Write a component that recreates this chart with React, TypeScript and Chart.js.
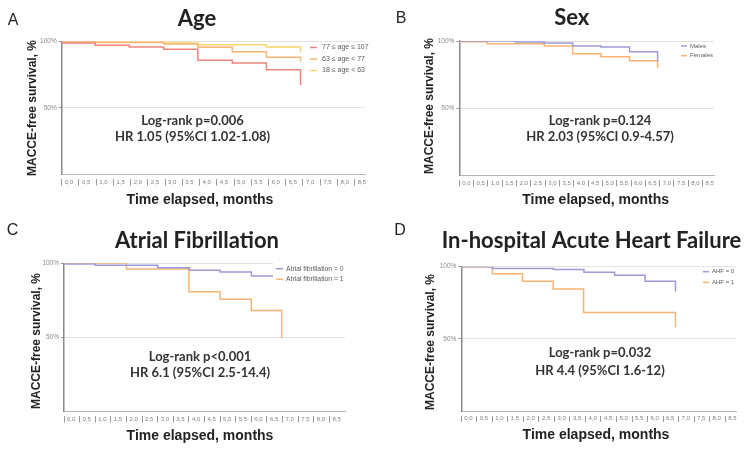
import React, { useEffect, useRef } from "react";
import { Chart, registerables } from "chart.js";
Chart.register(...registerables);

// ---------- data ----------
const xTickValues = [0, 0.5, 1, 1.5, 2, 2.5, 3, 3.5, 4, 4.5, 5, 5.5, 6, 6.5, 7, 7.5, 8, 8.5];
const yTickValues = [50, 100];

const xAxisTitle = "Time elapsed, months";
const yAxisTitle = "MACCE-free survival, %";

const panelLetters = ["A", "B", "C", "D"];
const panelTitles = ["Age", "Sex", "Atrial Fibrillation", "In-hospital Acute Heart Failure"];
const logRankTexts = ["Log-rank p=0.006", "Log-rank p=0.124", "Log-rank p<0.001", "Log-rank p=0.032"];
const hrTexts = ["HR 1.05 (95%CI 1.02-1.08)", "HR 2.03 (95%CI 0.9-4.57)", "HR 6.1 (95%CI 2.5-14.4)", "HR 4.4 (95%CI 1.6-12)"];

// A: Age
const ageOldLabel = "77 \u2264 age \u2264 107";
const ageOldTimes = [0, 0.97, 1.96, 2.96, 3.95, 4.95, 5.94, 6.93];
const ageOldSurv = [98.7, 97.0, 95.7, 94.0, 85.7, 83.7, 78.7, 67.2];
const ageMidLabel = "63 \u2264 age < 77";
const ageMidTimes = [0, 0.97, 2.96, 3.95, 4.95, 5.94, 6.93];
const ageMidSurv = [99.7, 99.1, 98.0, 95.5, 92.2, 88.0, 84.7];
const ageYoungLabel = "18 \u2264 age < 63";
const ageYoungTimes = [0, 0.97, 2.96, 3.95, 5.94, 6.93];
const ageYoungSurv = [100, 99.5, 98.7, 97.5, 95.7, 91.8];

// B: Sex
const malesLabel = "Males";
const malesTimes = [0, 1.96, 2.97, 3.96, 4.95, 5.95, 6.93];
const malesSurv = [100, 99.3, 98.5, 96.3, 95.5, 92.0, 85.0];
const femalesLabel = "Females";
const femalesTimes = [0, 0.98, 2.97, 3.96, 4.95, 5.95, 6.93];
const femalesSurv = [99.5, 97.9, 96.2, 90.5, 88.3, 85.3, 80.0];

// C: Atrial fibrillation
const af0Label = "Atrial fibrillation = 0";
const af0Times = [0, 1.0, 3.0, 4.02, 5.0, 6.0, 6.97];
const af0Surv = [99.5, 98.6, 97.0, 95.3, 94.1, 91.4, 89.0];
const af1Label = "Atrial fibrillation = 1";
const af1Times = [0, 2.0, 4.0, 5.0, 6.0, 6.97];
const af1Surv = [100, 96.1, 80.8, 75.7, 68.2, 49.5];

// D: AHF
const ahf0Label = "AHF = 0";
const ahf0Times = [0, 1.0, 2.97, 3.95, 4.94, 5.92, 6.9];
const ahf0Surv = [100, 98.8, 98.1, 96.1, 94.0, 89.9, 82.9];
const ahf1Label = "AHF = 1";
const ahf1Times = [0, 1.0, 1.97, 2.96, 3.94, 6.9];
const ahf1Surv = [100, 95.1, 89.9, 84.5, 68.3, 58.1];

// ---------- styles ----------
const RED = "#f1847a";
const ORANGE = "#f7b472";
const YELLOW = "#f9d56e";
const PURPLE = "#9c9ad8";

const Y_SCALE_W = 24;
const X_SCALE_H = 20;

type Series = { label: string; times: number[]; surv: number[]; color: string };
type Panel = {
  ox: number; oy: number; w: number; h: number;
  area: { l: number; r: number; t: number; b: number };
  xMax: number;
  idx: number;
  letterPos: [number, number];
  titlePos: [number, number];
  notePos: [number, number, number];
  yTitlePos: [number, number];
  xTitlePos: [number, number];
  series: Series[];
  legend: { lineX: number; lineW: number; textX: number; ys: number[]; font: number; box?: [number, number, number, number] };
};

const panels: Panel[] = [
  {
    ox: 0, oy: 0, w: 375, h: 215,
    area: { l: 61.7, r: 365, t: 41.3, b: 174.5 }, xMax: 8.8, idx: 0,
    letterPos: [13, 25], titlePos: [197, 26], notePos: [192.5, 120.7, 137.3],
    yTitlePos: [33, 108], xTitlePos: [200, 200],
    series: [
      { label: ageOldLabel, times: ageOldTimes, surv: ageOldSurv, color: RED },
      { label: ageMidLabel, times: ageMidTimes, surv: ageMidSurv, color: ORANGE },
      { label: ageYoungLabel, times: ageYoungTimes, surv: ageYoungSurv, color: YELLOW },
    ],
    legend: { lineX: 310, lineW: 7, textX: 322, ys: [47.5, 59, 70.5], font: 7 },
  },
  {
    ox: 375, oy: 0, w: 376, h: 215,
    area: { l: 459.3, r: 714, t: 41, b: 175.5 }, xMax: 8.9, idx: 1,
    letterPos: [401, 23.3], titlePos: [571.7, 25], notePos: [600, 120.7, 137.3],
    yTitlePos: [430, 106], xTitlePos: [595.7, 200],
    series: [
      { label: malesLabel, times: malesTimes, surv: malesSurv, color: PURPLE },
      { label: femalesLabel, times: femalesTimes, surv: femalesSurv, color: ORANGE },
    ],
    legend: { lineX: 681, lineW: 6, textX: 690, ys: [46, 55.7], font: 6 },
  },
  {
    ox: 0, oy: 215, w: 375, h: 234,
    area: { l: 64, r: 345, t: 263.3, b: 411.5 }, xMax: 9.0, idx: 2,
    letterPos: [12.5, 235], titlePos: [197, 247.7], notePos: [200, 356.7, 373],
    yTitlePos: [37, 341], xTitlePos: [200, 435.7],
    series: [
      { label: af0Label, times: af0Times, surv: af0Surv, color: PURPLE },
      { label: af1Label, times: af1Times, surv: af1Surv, color: ORANGE },
    ],
    legend: { lineX: 276, lineW: 7, textX: 286, ys: [268.7, 279.3], font: 6.8, box: [273, 262, 73, 24] },
  },
  {
    ox: 375, oy: 215, w: 376, h: 234,
    area: { l: 461.3, r: 736, t: 266.7, b: 411 }, xMax: 8.85, idx: 3,
    letterPos: [400, 235], titlePos: [591.5, 247.7], notePos: [600, 353.3, 370.7],
    yTitlePos: [431, 342], xTitlePos: [596, 435],
    series: [
      { label: ahf0Label, times: ahf0Times, surv: ahf0Surv, color: PURPLE },
      { label: ahf1Label, times: ahf1Times, surv: ahf1Surv, color: ORANGE },
    ],
    legend: { lineX: 703, lineW: 6, textX: 712, ys: [271.7, 282.3], font: 6 },
  },
];

const SANS = '"Liberation Sans", Arial, sans-serif';
const HUMAN = 'Lato, "Open Sans", sans-serif';

function makeTextPlugin(p: Panel) {
  return {
    id: "panelText" + p.idx,
    afterDraw(chart: any) {
      const ctx: CanvasRenderingContext2D = chart.ctx;
      ctx.save();
      ctx.translate(-p.ox, -p.oy);
      // legend
      if (p.legend.box) {
        ctx.fillStyle = "#ffffff";
        const [bx, by, bw, bh] = p.legend.box;
        ctx.fillRect(bx, by, bw, bh);
      }
      p.series.forEach((s, i) => {
        const y = p.legend.ys[i];
        ctx.strokeStyle = s.color;
        ctx.lineWidth = 1.5;
        ctx.beginPath();
        ctx.moveTo(p.legend.lineX, y);
        ctx.lineTo(p.legend.lineX + p.legend.lineW, y);
        ctx.stroke();
        ctx.fillStyle = "#5a5a5a";
        ctx.font = `${p.legend.font}px ${SANS}`;
        ctx.textAlign = "left";
        ctx.textBaseline = "middle";
        ctx.fillText(s.label, p.legend.textX, y);
      });
      // letter
      ctx.fillStyle = "#222";
      ctx.textAlign = "center";
      ctx.textBaseline = "alphabetic";
      ctx.font = `16px ${SANS}`;
      ctx.fillText(panelLetters[p.idx], p.letterPos[0], p.letterPos[1]);
      // title
      ctx.font = `bold 22px ${HUMAN}`;
      ctx.fillText(panelTitles[p.idx], p.titlePos[0], p.titlePos[1]);
      // notes
      ctx.fillStyle = "#333";
      ctx.textBaseline = "middle";
      ctx.font = `bold 13px ${HUMAN}`;
      ctx.fillText(logRankTexts[p.idx], p.notePos[0], p.notePos[1]);
      ctx.fillText(hrTexts[p.idx], p.notePos[0], p.notePos[2]);
      // axis titles
      ctx.fillStyle = "#222";
      ctx.font = `bold 14px ${SANS}`;
      ctx.fillText(xAxisTitle, p.xTitlePos[0], p.xTitlePos[1]);
      ctx.save();
      ctx.translate(p.yTitlePos[0], p.yTitlePos[1]);
      ctx.rotate(-Math.PI / 2);
      ctx.font = `bold 12px ${SANS}`;
      ctx.fillText(yAxisTitle, 0, 0);
      ctx.restore();
      ctx.restore();
    },
  };
}

function PanelChart({ p }: { p: Panel }) {
  const ref = useRef<HTMLCanvasElement | null>(null);
  useEffect(() => {
    let chart: Chart | null = null;
    let cancelled = false;
    const build = () => {
      if (cancelled || !ref.current) return;
      chart = new Chart(ref.current, {
        type: "line",
        data: {
          datasets: p.series.map((s) => ({
            label: s.label,
            data: s.times.map((t, i) => ({ x: t, y: s.surv[i] })),
            borderColor: s.color,
            backgroundColor: s.color,
            borderWidth: 1.5,
            pointRadius: 0,
            stepped: "before" as const,
            fill: false,
            tension: 0,
          })),
        },
        options: {
          responsive: false,
          animation: false,
          devicePixelRatio: 1,
          layout: {
            padding: {
              left: p.area.l - p.ox - Y_SCALE_W,
              top: p.area.t - p.oy,
              right: p.ox + p.w - p.area.r,
              bottom: p.oy + p.h - p.area.b - X_SCALE_H,
            },
          },
          plugins: { legend: { display: false }, title: { display: false }, tooltip: { enabled: false } },
          scales: {
            x: {
              type: "linear",
              min: 0,
              max: p.xMax,
              afterFit: (s: any) => { s.height = X_SCALE_H; },
              afterBuildTicks: (s: any) => { s.ticks = xTickValues.map((v) => ({ value: v })); },
              border: { display: true, color: "#b5b5b5", width: 1 },
              grid: {
                drawOnChartArea: false,
                drawTicks: true,
                tickLength: 11,
                tickColor: "#999",
                tickWidth: 1,
                tickBorderDash: [0, 4, 7, 30],
              },
              ticks: {
                autoSkip: false,
                maxRotation: 0,
                minRotation: 0,
                align: "start",
                labelOffset: 3,
                padding: -7,
                color: "#808080",
                font: { size: 6, family: SANS },
                callback: (v: any) => Number(v).toFixed(1).replace(".", ","),
              },
            },
            y: {
              type: "linear",
              min: 0,
              max: 100,
              afterFit: (s: any) => { s.width = Y_SCALE_W; },
              afterBuildTicks: (s: any) => { s.ticks = yTickValues.map((v) => ({ value: v })); },
              border: { display: true, color: "#8a8a8a", width: 1.5 },
              grid: { color: "#e3e3e3", lineWidth: 1, drawTicks: true, tickLength: 3, tickColor: "#999" },
              ticks: {
                color: "#8a8a8a",
                padding: 2,
                font: { size: 6.5, family: SANS },
                callback: (v: any) => v + "%",
              },
            },
          },
        },
        plugins: [makeTextPlugin(p)],
      } as any);
    };
    const fonts = (document as any).fonts;
    if (fonts && fonts.load) {
      Promise.all([
        fonts.load(`bold 22px Lato`),
        fonts.load(`bold 13px Lato`),
        fonts.load(`bold 14px "Liberation Sans"`),
        fonts.load(`14px "Liberation Sans"`),
      ]).then(build, build);
    } else build();
    return () => {
      cancelled = true;
      if (chart) chart.destroy();
    };
  }, [p]);
  return (
    <canvas
      ref={ref}
      width={p.w}
      height={p.h}
      style={{ position: "absolute", left: p.ox, top: p.oy, width: p.w, height: p.h }}
    />
  );
}

export default function App() {
  return (
    <div style={{ position: "absolute", left: 0, top: 0, width: 751, height: 449, background: "#fff", overflow: "hidden" }}>
      {panels.map((p) => (
        <PanelChart key={p.idx} p={p} />
      ))}
    </div>
  );
}
